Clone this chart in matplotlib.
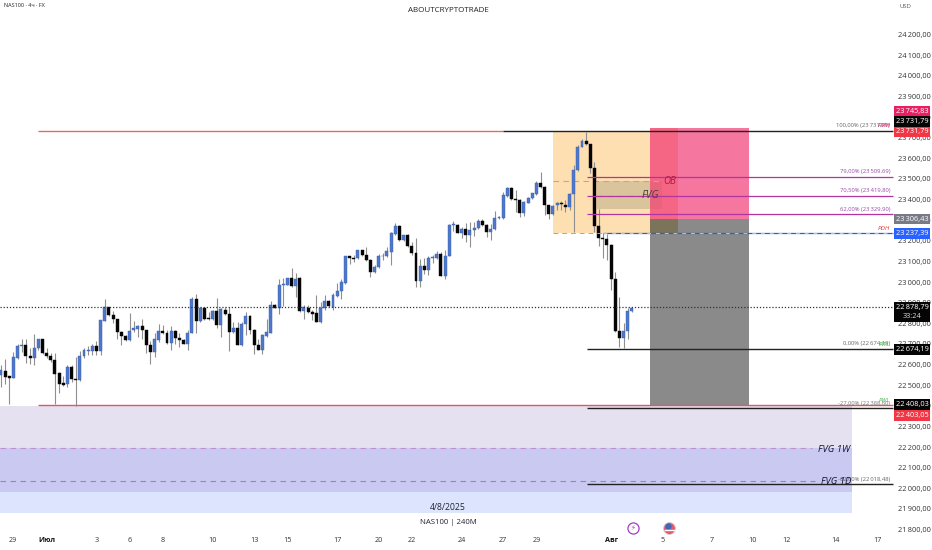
import matplotlib
matplotlib.use("Agg")
import matplotlib.pyplot as plt
from matplotlib.patches import Rectangle
from matplotlib.ticker import FuncFormatter

W, H = 932, 550
# prices: open, high, low, close
opens = [22548,22571,22544,22537,22634,22691,22694,22641,22633,22678,22726,22657,22642,22621,22557,22513,22505,22587,22529,22523,
22642,22667,22665,22689,22665,22812,22877,22841,22820,22760,22738,22718,22767,22772,22788,22767,22694,22662,22718,22762,
22751,22707,22762,22731,22718,22701,22752,22916,22812,22875,22824,22820,22859,22791,22867,22843,22759,22775,22694,22799,
22835,22769,22697,22671,22739,22754,22887,22875,22988,22988,23019,22980,23018,22861,22875,22853,22848,22807,22872,22908,
22880,22934,22958,22998,23126,23115,23115,23155,23131,23107,23048,23073,23126,23126,23147,23233,23272,23204,23228,23175,
23142,23003,23079,23060,23118,23115,23137,23031,23128,23277,23277,23239,23257,23228,23251,23260,23296,23277,23243,23257,
23309,23312,23419,23455,23403,23398,23336,23385,23406,23427,23481,23463,23372,23330,23373,23385,23374,23366,23425,23544,
23657,23684,23668,23555,23272,23212,23209,23180,23013,22764,22731,22764,22858]
highs = [22597,22626,22544,22660,22702,22726,22726,22678,22746,22726,22726,22678,22657,22658,22565,22545,22600,22600,22637,22665,
22678,22689,22702,22715,22815,22917,22880,22859,22823,22763,22743,22848,22812,22791,22823,22770,22715,22751,22799,22794,
22767,22788,22767,22751,22726,22767,22929,22942,22880,22880,22856,22864,22921,22875,22880,22880,22807,22807,22807,22853,
22840,22772,22722,22748,22823,22909,22893,23016,23018,23022,23066,23042,23026,22888,22891,22864,22936,22904,22937,22913,
22945,22998,23013,23126,23128,23131,23158,23158,23171,23110,23082,23134,23139,23171,23241,23285,23275,23228,23231,23196,
23216,23112,23118,23128,23131,23152,23147,23155,23281,23297,23281,23265,23285,23290,23290,23304,23306,23282,23281,23346,
23320,23438,23459,23459,23446,23402,23393,23414,23434,23490,23536,23466,23376,23373,23390,23395,23398,23430,23568,23664,
23693,23730,23672,23584,23353,23239,23235,23185,23050,22929,22802,22872,22880]
lows = [22492,22505,22408,22537,22629,22662,22608,22602,22597,22670,22650,22633,22613,22408,22460,22495,22492,22516,22398,22520,
22632,22645,22645,22645,22645,22812,22838,22803,22726,22697,22715,22715,22759,22735,22726,22657,22605,22637,22710,22748,
22702,22670,22702,22686,22699,22673,22751,22754,22808,22815,22815,22815,22775,22735,22840,22667,22754,22694,22691,22743,
22746,22649,22670,22649,22735,22751,22872,22843,22883,22985,22977,22929,22856,22820,22848,22815,22807,22804,22867,22880,
22867,22930,22917,22993,23087,23099,23110,23127,23104,23026,23045,23070,23107,23122,23082,23228,23200,23199,23172,23131,
22977,22974,23039,23034,23091,23110,23028,23017,23125,23249,23236,23212,23196,23168,23225,23257,23274,23220,23204,23254,
23305,23308,23415,23400,23341,23317,23322,23382,23402,23423,23458,23325,23304,23325,23352,23350,23341,23350,23244,23540,
23653,23665,23527,23244,23175,23118,23107,22961,22760,22686,22678,22726,22855]
closes = [22573,22540,22537,22636,22689,22697,22641,22633,22678,22726,22657,22642,22621,22553,22505,22503,22587,22529,22523,22642,
22670,22671,22691,22665,22815,22877,22841,22820,22760,22738,22718,22765,22775,22788,22767,22694,22662,22722,22762,22751,
22707,22762,22730,22718,22701,22752,22917,22812,22872,22820,22820,22859,22791,22869,22843,22760,22775,22697,22799,22835,
22769,22697,22671,22743,22756,22887,22875,22988,22992,23019,22980,23014,22859,22877,22853,22845,22807,22872,22908,22883,
22937,22958,23001,23126,23115,23112,23155,23131,23107,23048,23074,23126,23129,23150,23236,23272,23204,23228,23175,23139,
23003,23079,23060,23118,23120,23137,23031,23128,23277,23278,23239,23259,23228,23251,23264,23296,23277,23243,23257,23309,
23315,23422,23455,23404,23398,23336,23387,23406,23430,23481,23461,23372,23330,23369,23385,23377,23366,23425,23544,23657,
23686,23668,23555,23272,23212,23209,23180,23013,22764,22731,22764,22858,22874]

y_ticks = [21800 + 100 * k for k in range(25)]
x_tick_idx = [2.9, 11.1, 23, 31, 39, 51, 61, 69, 81, 91, 99, 111, 121, 129, 147.2, 159.3, 171.3, 181.2, 189.2, 201.2, 211.3]
x_tick_lab = ["29", "Июл", "3", "6", "8", "10", "13", "15", "17", "20", "22", "24", "27", "29", "Авг", "5", "7", "10", "12", "14", "17"]

SP = 4.15            # px per bar
Y0, YS = 488.3, 0.2062  # px of 22000, px per price unit
def fx(px): return (px - 1) / SP
def X(px): return px / W
def Y(py): return 1 - py / H

plt.rcParams['font.family'] = ['Open Sans', 'DejaVu Sans']
fig = plt.figure(figsize=(W / 100, H / 100), dpi=100)
ax = fig.add_axes([0, 0, 1, 1])
ax.set_xlim(fx(0), fx(W))
ax.set_ylim(22000 - (H - Y0) / YS, 22000 + Y0 / YS)
for s in ax.spines.values():
    s.set_visible(False)

# level zones
bands = [(22397, 22195, '#e5e1f1'), (22195, 21983, '#c9c9f1'), (21983, 21881, '#dce5fd')]
for top, bot, col in bands:
    ax.add_patch(Rectangle((fx(0), bot), fx(852) - fx(0), top - bot, fc=col, ec='none', zorder=1))
ax.hlines(22195, fx(0), fx(812), colors='#c08fd0', lw=0.8, linestyles=(0, (5, 4)), zorder=1.5)
ax.hlines(22035, fx(0), fx(815), colors='#9c82b8', lw=0.8, linestyles=(0, (5, 4)), zorder=1.5)

# order-block / position boxes
pink_top, entry, stop = 23745.83, 23306.43, 22403.05
ax.add_patch(Rectangle((fx(553), 23237.39), fx(678) - fx(553), 23731.79 - 23237.39, fc='#fddfb2', ec='none', zorder=1))
ax.add_patch(Rectangle((fx(597), 23354), fx(662) - fx(597), 23490 - 23354, fc='#d9c49c', ec='none', zorder=1.1))
ax.add_patch(Rectangle((fx(649.5), entry), fx(749) - fx(649.5), pink_top - entry, fc='#f5769f', ec='none', zorder=1.2))
ax.add_patch(Rectangle((fx(649.5), stop), fx(749) - fx(649.5), entry - stop, fc='#8a8a8a', ec='none', zorder=1.2))
ax.add_patch(Rectangle((fx(649.5), entry), fx(678) - fx(649.5), pink_top - entry, fc='#f55a70', alpha=0.55, ec='none', zorder=1.25))
ax.add_patch(Rectangle((fx(649.5), 23237.39), fx(678) - fx(649.5), entry - 23237.39, fc='#7b745a', ec='none', zorder=1.25))
ax.add_patch(Rectangle((fx(649.5), 23354), fx(662) - fx(649.5), 23490 - 23354, fc='#a05040', alpha=0.12, ec='none', zorder=1.3))

# candles
wick_col, up_col, up_edge, dn_col = '#8f8f8f', '#4f78cc', '#3a5ea8', '#050505'
xs = list(range(len(opens)))
ax.vlines(xs, lows, highs, colors=wick_col, lw=0.8, zorder=2)
for i, (o, c) in enumerate(zip(opens, closes)):
    up = c >= o
    ax.bar(i, max(abs(c - o), 3), bottom=min(o, c), width=0.72,
           color=up_col if up else dn_col, edgecolor=up_edge if up else dn_col, lw=0.3, zorder=2.2)

# horizontal levels
ax.hlines(23731.79, fx(38), fx(503), colors='#e8666e', lw=1.0, zorder=3)
ax.hlines(23731.79, fx(503), fx(893), colors='#222222', lw=1.0, zorder=3)
for lv in (23509.69, 23419.80, 23329.90):
    ax.hlines(lv, fx(587), fx(893), colors='#b2359f', lw=0.9, zorder=3)
ax.hlines(23237.39, fx(603), fx(893), colors='#2f5cc8', lw=0.9, zorder=3)
ax.hlines(23237.39, fx(603), fx(893), colors='#a9c4f5', lw=0.7, linestyles=(0, (4, 5)), zorder=3.1)
ax.hlines(23237.39, fx(553), fx(603), colors='#b0a890', lw=0.7, linestyles=(0, (5, 4)), zorder=3)
ax.hlines(23490, fx(553), fx(662), colors='#b9ab90', lw=0.8, linestyles=(0, (5, 4)), zorder=1.6)
ax.hlines(23419.8, fx(597), fx(650), colors='#a09070', lw=0.8, linestyles=(0, (5, 4)), zorder=1.6)
for lv in (22674.19, 22388.6, 22018.48):
    ax.hlines(lv, fx(587), fx(893), colors='#222222', lw=1.0, zorder=3)
ax.hlines(22403.05, fx(38), fx(893), colors='#dc5a66', lw=1.0, zorder=3)
ax.hlines(22878.79, fx(0), fx(893), colors='#333333', lw=0.9, linestyles=(0, (1, 1.5)), zorder=3)

# axes labels
ax.yaxis.tick_right()
ax.set_yticks(y_ticks)
ax.yaxis.set_major_formatter(FuncFormatter(lambda v, _: f"{int(v) // 1000}\u2009{int(v) % 1000:03d},00"))
ax.tick_params(axis='y', length=0, pad=-(W - 898) * 0.72, labelsize=5.3, labelcolor='#333333')
ax.set_xticks(x_tick_idx)
ax.set_xticklabels(x_tick_lab)
ax.tick_params(axis='x', length=0, pad=-9.6, labelsize=5.2, labelcolor='#333333')
for t in ax.get_xticklabels():
    if t.get_text() in ("Июл", "Авг"):
        t.set_fontweight('bold')
        t.set_color('#111111')

# price badges
def badge(py, text, col, tc='white'):
    ax.add_patch(Rectangle((X(894), Y(py + 5.2)), 36 / W, 10.4 / H, transform=ax.transAxes, fc=col, ec='none', zorder=8))
    ax.text(X(912), Y(py), text, transform=ax.transAxes, color=tc, fontsize=5.3, ha='center', va='center', zorder=9)
badge(111, "23\u2009745,83", '#e91e63')
badge(121.5, "23\u2009731,79", '#050505')
badge(132, "23\u2009731,79", '#f23645')
badge(219, "23\u2009306,43", '#787b86')
badge(233.5, "23\u2009237,39", '#2962ff')
badge(307.5, "22\u2009878,79", '#050505')
badge(316.5, "33:24", '#050505', '#dddddd')
badge(349.5, "22\u2009674,19", '#050505')
badge(404.5, "22\u2009408,03", '#050505')
badge(415.5, "22\u2009403,05", '#f23645')

# annotations
def note(px, py, s, col='#444444', size=4.2, ha='right', zorder=7, **kw):
    ax.text(X(px), Y(py), s, transform=ax.transAxes, color=col, fontsize=size, ha=ha, va='center', zorder=zorder, **kw)
note(890, 125.5, "100,00% (23\u2009731,79)", '#666666')
note(890, 125.5, "PMH", '#c2185b', 4.4, style='italic')
note(890, 172, "79,00% (23\u2009509,69)", '#9a4aa8')
note(890, 190.5, "70,50% (23\u2009419,80)", '#9a4aa8')
note(890, 209, "62,00% (23\u2009329,90)", '#9a4aa8')
note(890, 228, "PDH", '#e53935', 4.6, style='italic')
note(890, 344, "0,00% (22\u2009674,19)", '#666666')
note(890, 344, "PWL", '#4caf50', 4.2, style='italic')
note(890, 403.5, "-27,00% (22\u2009388,60)", '#777777')
note(890, 400, "PWL", '#4caf50', 4.2, style='italic')
note(890, 479.5, "-62,00% (22\u2009018,48)", '#666666')
note(670, 182, "OB", '#b01848', 7, ha='center', style='italic')
note(650, 195.5, "FVG", '#4a3a40', 7.4, ha='center', style='italic')
note(834, 449, "FVG 1W", '#111133', 6.8, ha='center', style='italic')
note(836, 481, "FVG 1D", '#111133', 6.8, ha='center', style='italic', zorder=7.5)
note(448, 507, "4/8/2025", '#222233', 6.2, ha='center')
note(448, 522, "NAS100 | 240M", '#222233', 5.6, ha='center')
note(448, 11, "ABOUTCRYPTOTRADE", '#222222', 5.8, ha='center')
note(4, 5.5, "NAS100 · 4ч · FX", '#222222', 4.0, ha='left')
note(899, 7, "USD", '#555555', 4.2, ha='left')

# event icons
ax.plot([633 / W], [1 - 528 / H], marker='o', ms=8, mfc='white', mec='#a53cc6', mew=0.9, transform=ax.transAxes, zorder=7)
ax.text(633 / W, 1 - 528 / H, "\u26a1", transform=ax.transAxes, color='#a53cc6', fontsize=5, ha='center', va='center', family='DejaVu Sans', zorder=8)
ax.plot([669 / W], [1 - 528 / H], marker='o', ms=8.5, mfc='#e05a6a', mec='#d8c8d8', mew=0.6, transform=ax.transAxes, zorder=7)
ax.plot([668 / W], [1 - 525.5 / H], marker='o', ms=4.5, mfc='#3f68b8', mec='none', transform=ax.transAxes, zorder=8)
ax.plot([664.5 / W, 673.5 / W], [1 - 529.5 / H] * 2, color='white', lw=1, transform=ax.transAxes, zorder=8)

fig.savefig("out.png", dpi=100)
